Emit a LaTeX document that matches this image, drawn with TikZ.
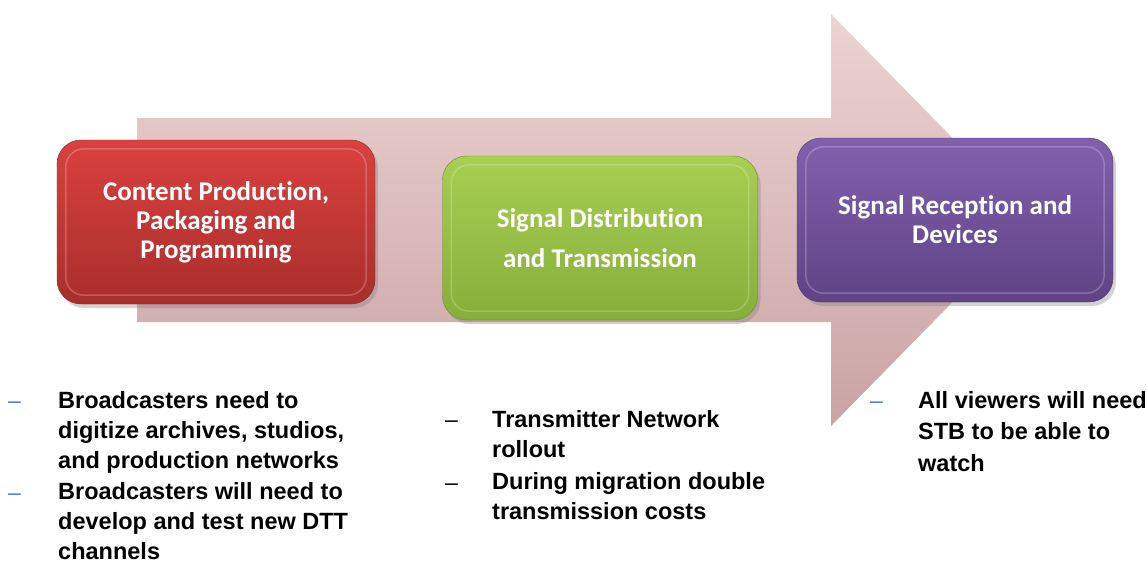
\documentclass[tikz,border=0pt]{standalone}
\usepackage{fontspec}
\setmainfont{Liberation Sans}
\newfontfamily\boxfont[Ligatures={NoCommon,NoContextual}, Contextuals=NoAlternate]{Carlito}
\newfontfamily\listfont{Liberation Sans}
\usetikzlibrary{shadows}
\definecolor{arrowtop}{HTML}{EDD3D3}
\definecolor{arrowbot}{HTML}{C9A3A4}
\definecolor{redtop}{HTML}{D9413F}
\definecolor{redbot}{HTML}{A92E2C}
\definecolor{greentop}{HTML}{A8CE52}
\definecolor{greenbot}{HTML}{86AE3A}
\definecolor{purptop}{HTML}{8260AE}
\definecolor{purpbot}{HTML}{5F4385}
\definecolor{dashblue}{HTML}{4F81BD}
\tikzset{
  stagebox/.style={rounded corners=24pt, minimum width=#1, minimum height=164pt, inner sep=0pt,
     align=center, text=white, font=\boxfont\bfseries\fontsize{27}{29}\selectfont,
     drop shadow={shadow xshift=3pt, shadow yshift=-4pt, opacity=0.35}},
  listtext/.style={anchor=base west, inner sep=0pt, align=left, font=\listfont\bfseries\fontsize{23.5}{30}\selectfont},
  dashmark/.style={anchor=base west, inner sep=0pt, font=\listfont\fontsize{23}{23}\selectfont}
}
\begin{document}
\begin{tikzpicture}[x=1pt,y=-1pt]
\useasboundingbox (0,0) rectangle (1147,563);
% big arrow
\shade[top color=arrowtop, bottom color=arrowbot]
  (137,118) -- (831,118) -- (831,14) -- (1033,220) -- (831,426) -- (831,322) -- (137,322) -- cycle;
% stage boxes
\node[stagebox=318pt, top color=redtop, bottom color=redbot, draw=redbot!80!black] (prod) at (216,222)
  {Content Produc{}tion,\\Packaging and\\Programming};
\node[stagebox=315pt, top color=greentop, bottom color=greenbot, draw=greenbot!80!black, font=\boxfont\bfseries\fontsize{27}{40}\selectfont] (dist) at (600,238)
  {Signal Distribu{}tion\\and Transmission};
\node[stagebox=316pt, top color=purptop, bottom color=purpbot, draw=purpbot!80!black] (recv) at (955,220)
  {Signal Recep{}tion and\\Devices};
% inner highlights
\foreach \b in {prod,dist,recv}{
  \draw[white, opacity=0.22, line width=1.5pt, rounded corners=18pt]
    ([xshift=9pt,yshift=-9pt]\b.north west) rectangle ([xshift=-9pt,yshift=9pt]\b.south east);
}
% bullet lists (anchored at the baseline of their last line)
\node[dashmark, text=dashblue] (d1) at (8,408) {–};
\node[listtext] (t1) at (58,468) {Broadcasters need to\\digitize archives, studios,\\and production networks};
\node[dashmark, text=dashblue] (d2) at (8,500) {–};
\node[listtext] (t2) at (58,559) {Broadcasters will need to\\develop and test new DTT\\channels};
\node[dashmark] (d3) at (445,427) {–};
\node[listtext] (t3) at (492,457) {Transmitter Network\\rollout};
\node[dashmark] (d4) at (445,490) {–};
\node[listtext] (t4) at (492,519) {During migration double\\transmission costs};
\node[dashmark, text=dashblue] (d5) at (870,408) {–};
\node[listtext, font=\listfont\bfseries\fontsize{23.5}{31.5}\selectfont] (t5) at (918,471) {All viewers will need\\STB to be able to\\watch};
\end{tikzpicture}
\end{document}
